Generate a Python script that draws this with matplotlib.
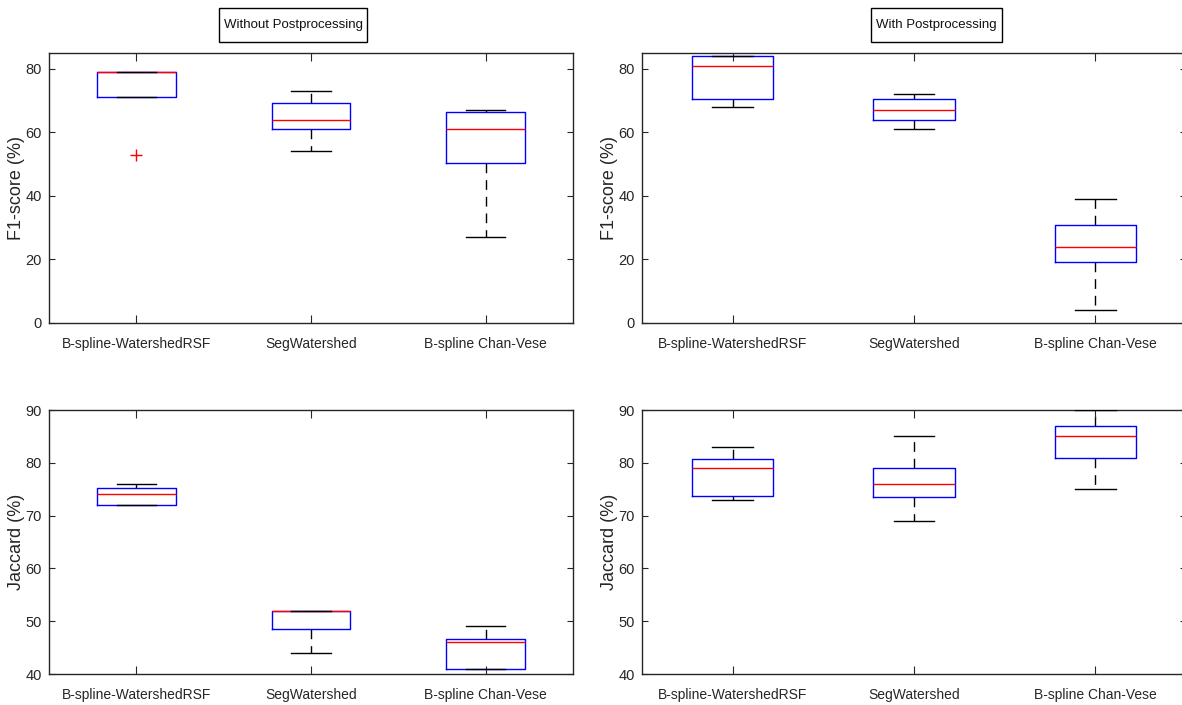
import matplotlib.pyplot as plt
from matplotlib.patches import Rectangle
import numpy as np

# ---------------------------------------------------------------------------
# data
# ---------------------------------------------------------------------------
categories = ["B-spline-WatershedRSF", "SegWatershed", "B-spline Chan-Vese"]

# F1-score, without postprocessing
f1_wo_med = [79, 64, 61]
f1_wo_q1 = [71, 61, 50.3]
f1_wo_q3 = [79, 69.3, 66.3]
f1_wo_lo = [71, 54, 27]
f1_wo_hi = [79, 73, 67]
f1_wo_out = [[53], [], []]

# F1-score, with postprocessing
f1_w_med = [81, 67, 24]
f1_w_q1 = [70.4, 64, 19.2]
f1_w_q3 = [84, 70.4, 30.9]
f1_w_lo = [68, 61, 4]
f1_w_hi = [84, 72, 39]
f1_w_out = [[], [], []]

# Jaccard, without postprocessing
jac_wo_med = [74, 52, 46]
jac_wo_q1 = [72, 48.5, 41]
jac_wo_q3 = [75.2, 52, 46.7]
jac_wo_lo = [72, 44, 41]
jac_wo_hi = [76, 52, 49]
jac_wo_out = [[], [], []]

# Jaccard, with postprocessing
jac_w_med = [79, 76, 85]
jac_w_q1 = [73.7, 73.5, 81]
jac_w_q3 = [80.7, 79, 87]
jac_w_lo = [73, 69, 75]
jac_w_hi = [83, 85, 90]
jac_w_out = [[], [], []]

f1_ticks = [0, 20, 40, 60, 80]
jac_ticks = [40, 50, 60, 70, 80, 90]

# ---------------------------------------------------------------------------
# helpers
# ---------------------------------------------------------------------------
font = ["Liberation Sans", "DejaVu Sans"]
W, H = 1182, 705
gray = "#262626"


def make_stats(med, q1, q3, lo, hi, out):
    stats = []
    for i in range(len(med)):
        stats.append(dict(med=med[i], q1=q1[i], q3=q3[i], whislo=lo[i],
                          whishi=hi[i], fliers=np.array(out[i], dtype=float)))
    return stats


def draw(rect_px, stats, ylim, yticks, ylabel):
    l, t, r, b = rect_px
    ax = fig.add_axes([l / W, 1 - b / H, (r - l) / W, (b - t) / H])
    ax.bxp(stats, positions=[1, 2, 3], widths=0.45, showfliers=True,
           boxprops=dict(color="blue", linewidth=1.0, zorder=2),
           medianprops=dict(color="red", linewidth=1.0, zorder=3),
           whiskerprops=dict(color="black", linewidth=1.0,
                             linestyle=(0, (7, 5)), zorder=1),
           capprops=dict(color="black", linewidth=1.0, zorder=4),
           capwidths=0.225,
           flierprops=dict(marker="+", markeredgecolor="red",
                           markersize=8, markeredgewidth=1.0))
    ax.set_xlim(0.5, 3.5)
    ax.set_ylim(*ylim)
    ax.set_xticks([1, 2, 3])
    ax.set_xticklabels(categories, fontfamily=font, fontsize=10,
                       color=gray)
    ax.set_yticks(yticks)
    ax.set_yticklabels([str(v) for v in yticks], fontfamily=font,
                       fontsize=10.5, color=gray)
    ax.tick_params(axis="x", direction="in", length=6, width=0.8,
                   top=True, pad=10, color=gray)
    ax.tick_params(axis="y", direction="in", length=4, width=0.8,
                   right=True, pad=5, color=gray)
    for s in ax.spines.values():
        s.set_color(gray)
        s.set_linewidth(1.0)
    ax.set_ylabel(ylabel, fontfamily=font, fontsize=13, color=gray)
    ax.yaxis.set_label_coords(-24.0 / (r - l), 0.5)
    return ax


def title_box(x0, x1, y0, y1, text):
    fig.patches.append(Rectangle((x0 / W, 1 - y1 / H), (x1 - x0) / W,
                                 (y1 - y0) / H, transform=fig.transFigure,
                                 facecolor="white", edgecolor="black",
                                 linewidth=1.0))
    fig.text((x0 + x1) / 2 / W, 1 - (y0 + y1) / 2 / H, text, ha="center",
             va="center", fontfamily=font, fontsize=9.5, color="#111111")


# ---------------------------------------------------------------------------
# main
# ---------------------------------------------------------------------------
fig = plt.figure(figsize=(W / 100, H / 100), dpi=100)

draw((49, 53, 573, 323), make_stats(f1_wo_med, f1_wo_q1, f1_wo_q3, f1_wo_lo,
     f1_wo_hi, f1_wo_out), (0, 85), f1_ticks, "F1-score (%)")
draw((642, 53, 1186, 323), make_stats(f1_w_med, f1_w_q1, f1_w_q3, f1_w_lo,
     f1_w_hi, f1_w_out), (0, 85), f1_ticks, "F1-score (%)")
draw((49, 410, 573, 674), make_stats(jac_wo_med, jac_wo_q1, jac_wo_q3,
     jac_wo_lo, jac_wo_hi, jac_wo_out), (40, 90), jac_ticks, "Jaccard (%)")
draw((642, 410, 1186, 674), make_stats(jac_w_med, jac_w_q1, jac_w_q3,
     jac_w_lo, jac_w_hi, jac_w_out), (40, 90), jac_ticks, "Jaccard (%)")

# boxed panel titles
title_box(219, 367, 8, 42, "Without Postprocessing")
title_box(871, 1002, 8, 42, "With Postprocessing")

plt.savefig("out.png", dpi=100)
